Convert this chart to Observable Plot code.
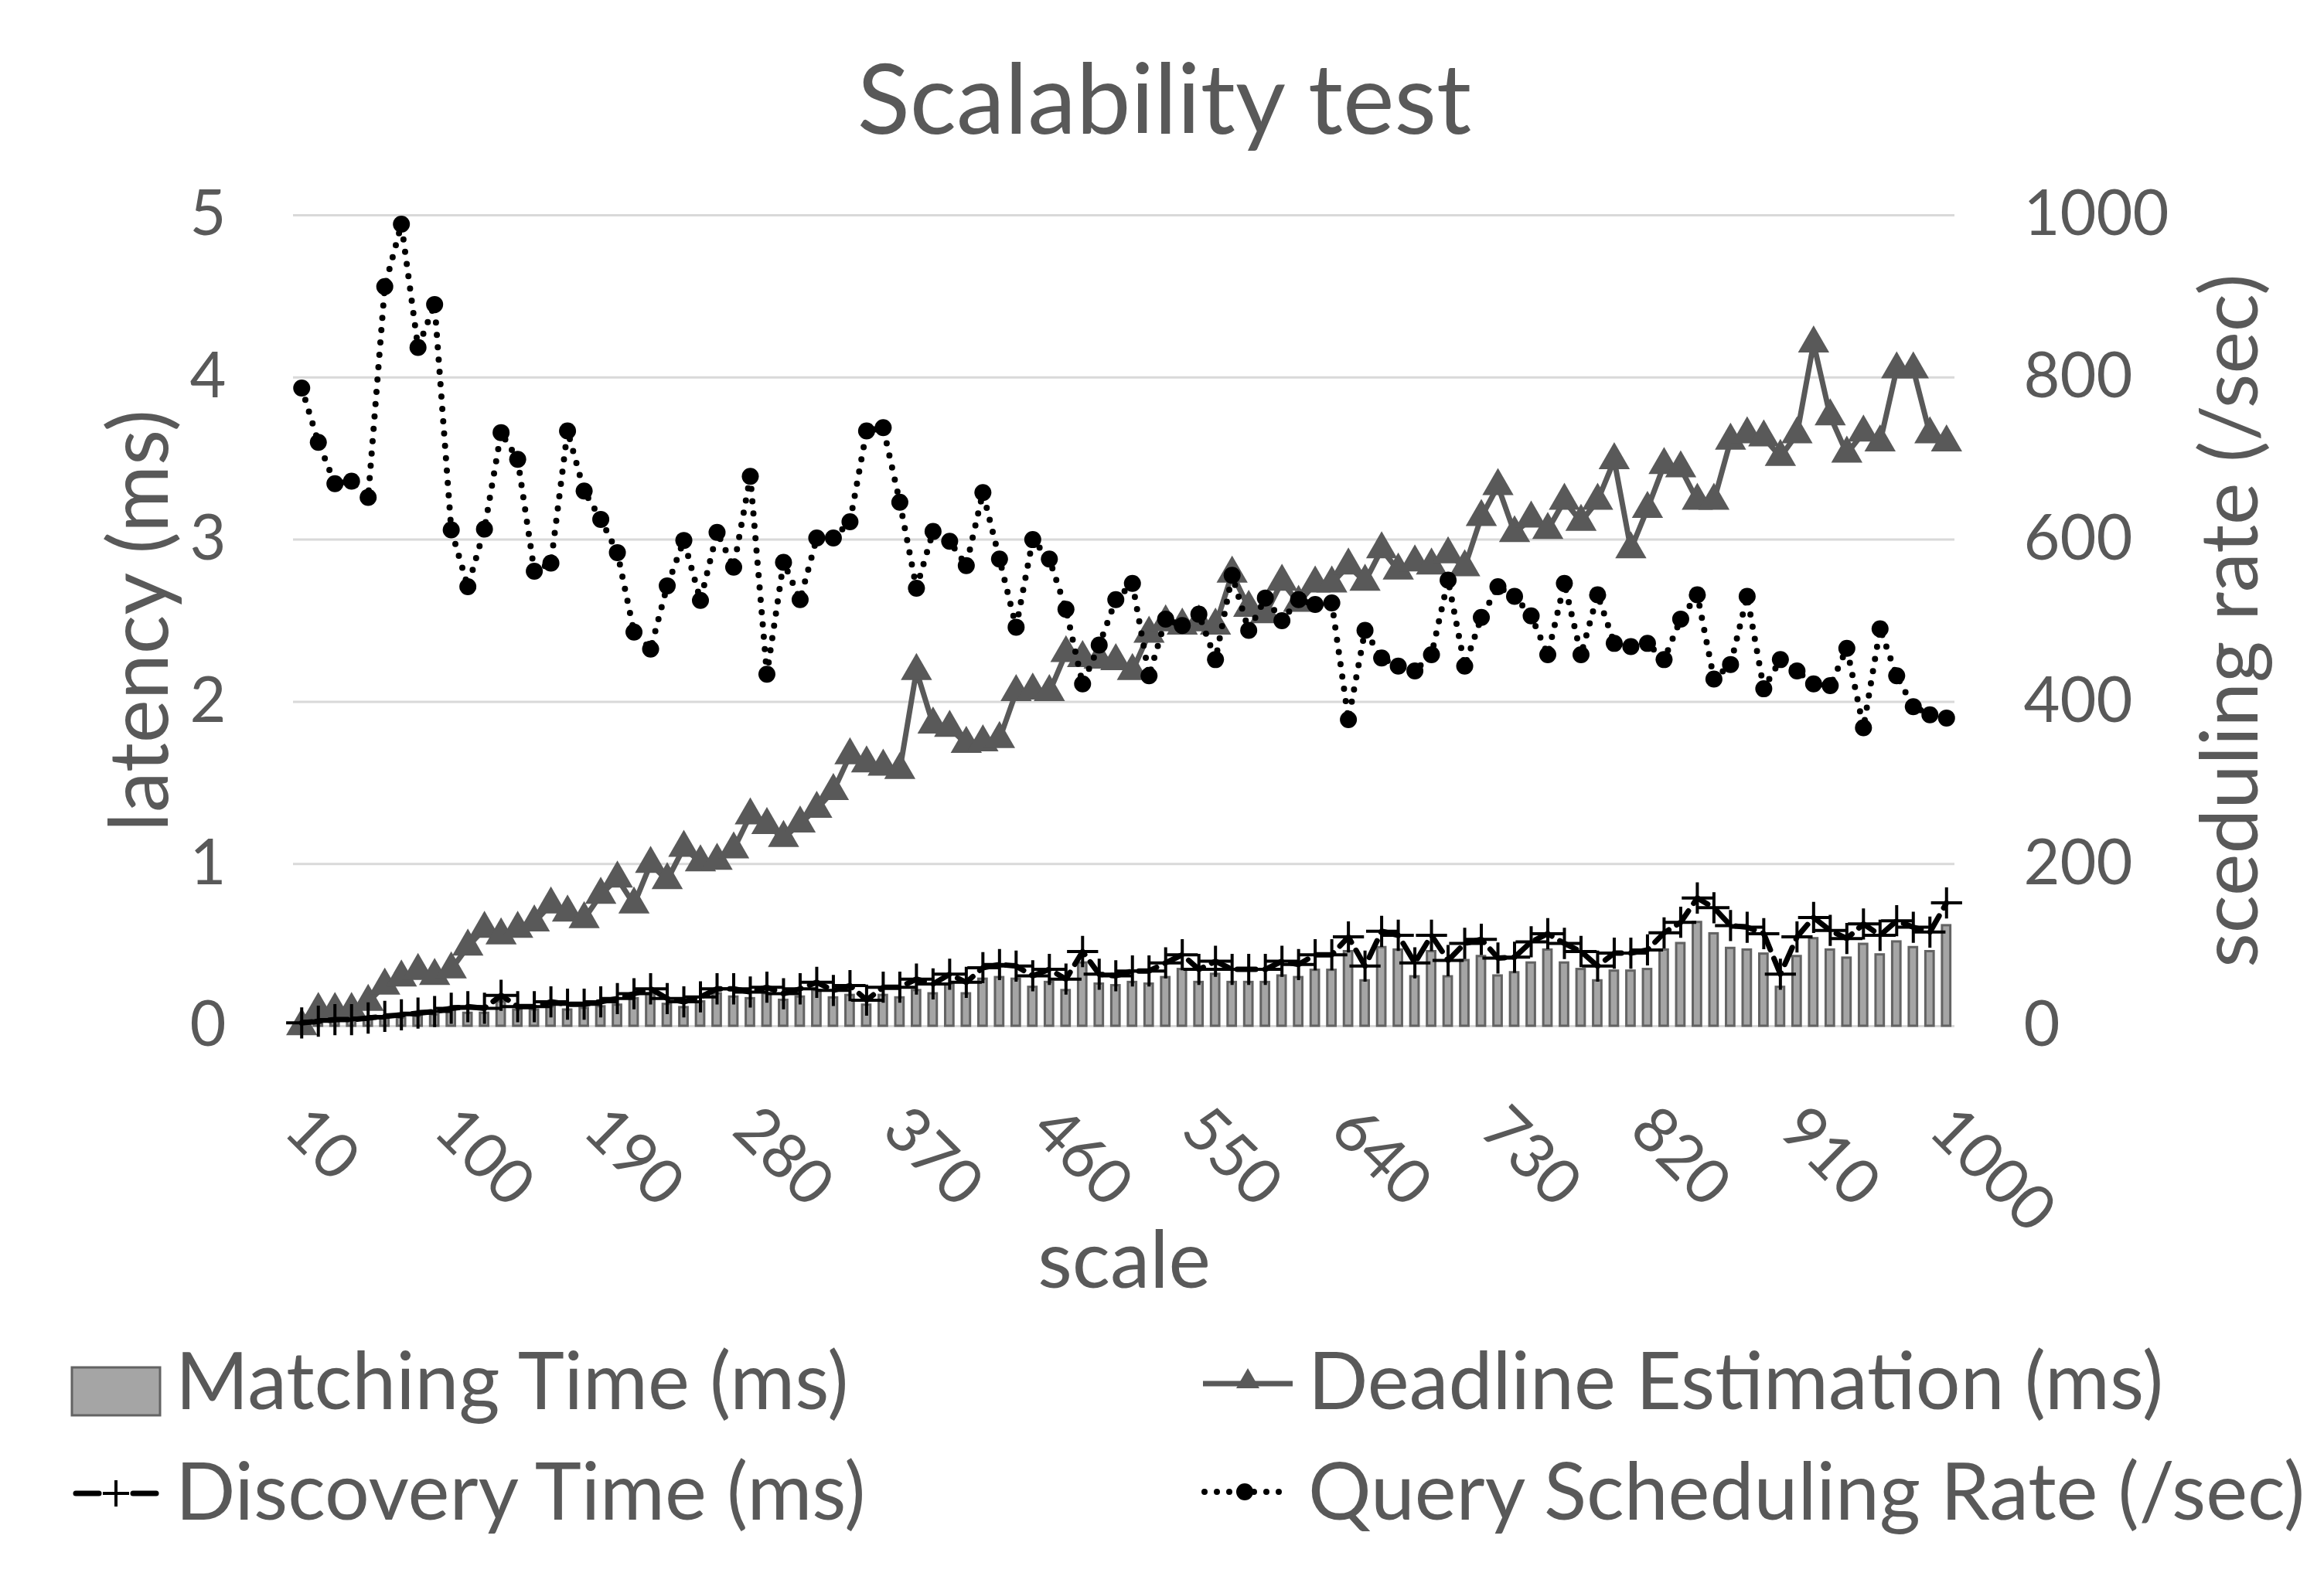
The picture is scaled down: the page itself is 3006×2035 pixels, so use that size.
<!DOCTYPE html>
<html>
<head>
<meta charset="utf-8">
<script src="https://cdn.jsdelivr.net/npm/d3@7"></script>
<script src="https://cdn.jsdelivr.net/npm/@observablehq/plot@0.6"></script>
<style>
  html, body { margin: 0; padding: 0; background: white; }
  #page { position: relative; width: 3006px; height: 2035px; background: white; font-family: Lato, sans-serif; color: #595959; overflow: hidden; }
  #title { position: absolute; left: 0; top: 0; width: 3006px; height: 250px; display: flex; align-items: center; justify-content: center; font-size: 126px; line-height: 1; padding-left: 6px; box-sizing: border-box; }
  #chart { position: absolute; left: 0; top: 230px; }
  .leg { position: absolute; font-size: 102px; line-height: 1; white-space: nowrap; }
  #swatches { position: absolute; left: 0; top: 0; }
</style>
</head>
<body>
<div id="page">
  <div id="title">Scalability test</div>
  <div id="chart"></div>
  <div class="leg" style="left:227px; top:1733px;">Matching Time (ms)</div>
  <div class="leg" style="left:1692px; top:1733px;">Deadline Estimation (ms)</div>
  <div class="leg" style="left:227px; top:1876px;">Discovery Time (ms)</div>
  <div class="leg" style="left:1692px; top:1876px;">Query Scheduling Rate (/sec)</div>
  <svg id="swatches" width="3006" height="2035"></svg>
</div>
<script>
const scales = [10,20,30,40,50,60,70,80,90,100,110,120,130,140,150,160,170,180,190,200,
  210,220,230,240,250,260,270,280,290,300,310,320,330,340,350,360,370,380,390,400,
  410,420,430,440,450,460,470,480,490,500,510,520,530,540,550,560,570,580,590,600,
  610,620,630,640,650,660,670,680,690,700,710,720,730,740,750,760,770,780,790,800,
  810,820,830,840,850,860,870,880,890,900,910,920,930,940,950,960,970,980,990,1000];

const matchingTime = [0.00,0.02,0.03,0.03,0.04,0.05,0.05,0.06,0.07,0.10,
  0.08,0.08,0.15,0.10,0.10,0.12,0.10,0.11,0.12,0.13,
  0.17,0.20,0.135,0.115,0.15,0.20,0.18,0.17,0.20,0.16,
  0.18,0.22,0.175,0.19,0.13,0.19,0.175,0.22,0.20,0.26,
  0.20,0.29,0.30,0.29,0.24,0.27,0.22,0.39,0.26,0.25,
  0.27,0.26,0.30,0.35,0.27,0.32,0.27,0.27,0.27,0.31,
  0.30,0.345,0.345,0.46,0.28,0.485,0.47,0.305,0.46,0.305,
  0.405,0.43,0.31,0.33,0.39,0.47,0.39,0.35,0.28,0.34,
  0.34,0.35,0.47,0.51,0.64,0.57,0.48,0.47,0.445,0.24,
  0.43,0.54,0.47,0.42,0.505,0.44,0.52,0.485,0.46,0.62];

const deadlineEstimation = [0.00,0.10,0.10,0.10,0.15,0.25,0.30,0.34,0.31,0.35,
  0.49,0.60,0.56,0.60,0.64,0.75,0.70,0.66,0.81,0.91,
  0.75,1.00,0.90,1.10,1.01,1.02,1.09,1.30,1.24,1.16,
  1.25,1.34,1.45,1.67,1.62,1.60,1.58,2.19,1.86,1.84,
  1.74,1.75,1.77,2.06,2.07,2.06,2.30,2.27,2.26,2.25,
  2.19,2.42,2.49,2.47,2.49,2.47,2.79,2.58,2.54,2.74,
  2.61,2.73,2.73,2.84,2.74,2.94,2.81,2.86,2.84,2.91,
  2.83,3.14,3.33,3.04,3.13,3.06,3.24,3.11,3.24,3.49,
  2.94,3.19,3.46,3.44,3.24,3.24,3.61,3.65,3.63,3.51,
  3.65,4.21,3.76,3.53,3.66,3.60,4.05,4.05,3.65,3.60];

const discoveryTime = [0.02,0.03,0.04,0.04,0.05,0.06,0.07,0.08,0.09,0.11,
  0.12,0.11,0.19,0.12,0.12,0.15,0.135,0.135,0.15,0.17,
  0.20,0.23,0.17,0.15,0.18,0.23,0.23,0.21,0.24,0.20,
  0.23,0.27,0.22,0.25,0.16,0.24,0.24,0.29,0.26,0.32,
  0.27,0.36,0.38,0.37,0.31,0.35,0.29,0.46,0.32,0.31,
  0.34,0.34,0.39,0.44,0.35,0.40,0.35,0.35,0.35,0.40,
  0.38,0.44,0.44,0.55,0.37,0.585,0.56,0.39,0.56,0.405,
  0.51,0.535,0.42,0.425,0.52,0.57,0.51,0.46,0.37,0.45,
  0.45,0.47,0.575,0.64,0.79,0.73,0.62,0.61,0.57,0.32,
  0.55,0.67,0.59,0.54,0.63,0.56,0.65,0.61,0.58,0.76];

const schedulingRate = [787,720,669,672,652,912,989,837,890,612,
  542,613,732,699,561,571,734,660,625,584,
  486,465,543,599,525,609,566,678,434,572,
  526,602,602,622,734,738,646,540,610,598,
  568,658,576,492,600,576,514,422,470,526,
  546,432,502,494,508,452,556,488,528,500,
  526,520,522,378,488,454,444,438,458,550,
  444,504,542,530,506,458,546,458,532,472,
  468,472,452,502,532,428,446,530,416,452,
  438,422,420,466,368,490,432,394,384,380];

const latencyTicks = [0, 1, 2, 3, 4, 5];
const rateTicks = [0, 200, 400, 600, 800, 1000];
const xTickLabels = [10, 100, 190, 280, 370, 460, 550, 640, 730, 820, 910, 1000];

const rateToLatency = 5 / 1000;

const data = scales.map((s, i) => ({
  scale: s,
  matching: matchingTime[i],
  deadline: deadlineEstimation[i],
  discovery: discoveryTime[i],
  rate: schedulingRate[i]
}));

const chart = Plot.plot({
  width: 3006,
  height: 1510,
  marginLeft: 379,
  marginRight: 478,
  marginTop: 48,
  marginBottom: 413,
  style: { fontFamily: "Lato", fontSize: "81px", color: "#595959", background: "white", overflow: "visible" },
  x: { type: "band", domain: scales, paddingInner: 0.5, paddingOuter: 0.25, axis: null },
  y: { domain: [0, 5], axis: null },
  marks: [
    Plot.ruleY(latencyTicks, { stroke: "#d9d9d9", strokeWidth: 3 }),
    Plot.barY(data, { x: "scale", y: "matching", fill: "#a5a5a5", stroke: "#636363", strokeWidth: 3 }),
    Plot.line(data, { x: "scale", y: "deadline", stroke: "#595959", strokeWidth: 7, strokeLinejoin: "round" }),
    Plot.dot(data, { x: "scale", y: "deadline", symbol: "triangle", r: 15, fill: "#595959", stroke: "none" }),
    Plot.line(data, { x: "scale", y: "discovery", stroke: "black", strokeWidth: 7, strokeDasharray: "24,12", strokeLinecap: "round" }),
    Plot.dot(data, { x: "scale", y: "discovery", symbol: "plus", r: 13, stroke: "black", strokeWidth: 4 }),
    Plot.line(data, { x: "scale", y: d => d.rate * rateToLatency, stroke: "black", strokeWidth: 8, strokeDasharray: "0,16", strokeLinecap: "round" }),
    Plot.dot(data, { x: "scale", y: d => d.rate * rateToLatency, r: 11, fill: "black", stroke: "none" }),
    Plot.text(latencyTicks, { y: d => d, text: d => String(d), frameAnchor: "left", dx: -87, textAnchor: "end", fill: "#595959", fontSize: 81 }),
    Plot.text(rateTicks, { y: d => d * rateToLatency, text: d => String(d), frameAnchor: "right", dx: 89, textAnchor: "start", fill: "#595959", fontSize: 81 }),
    Plot.text(xTickLabels, { x: d => d, text: d => String(d), frameAnchor: "bottom", dx: -26, dy: 138, rotate: 45, textAnchor: "start", fill: "#595959", fontSize: 81 }),
    Plot.text(["scale"], { text: d => d, frameAnchor: "bottom", dy: 338, textAnchor: "middle", fill: "#595959", fontSize: 103 }),
    Plot.text(["latency (ms)"], { text: d => d, frameAnchor: "left", dx: -196, rotate: -90, textAnchor: "middle", fill: "#595959", fontSize: 106 }),
    Plot.text(["sceduling rate (/sec)"], { text: d => d, frameAnchor: "right", dx: 359, rotate: -90, textAnchor: "middle", fill: "#595959", fontSize: 103 })
  ]
});
document.getElementById("chart").appendChild(chart);

// Legend swatches
const sw = d3.select("#swatches");
sw.append("rect").attr("x", 93).attr("y", 1769).attr("width", 114).attr("height", 62)
  .attr("fill", "#a5a5a5").attr("stroke", "#636363").attr("stroke-width", 3);
sw.append("line").attr("x1", 1556).attr("x2", 1672).attr("y1", 1790).attr("y2", 1790)
  .attr("stroke", "#595959").attr("stroke-width", 7);
sw.append("path").attr("transform", "translate(1614,1787)")
  .attr("d", "M0,-17L15,9L-15,9Z").attr("fill", "#595959");
sw.append("line").attr("x1", 98).attr("x2", 128).attr("y1", 1932).attr("y2", 1932)
  .attr("stroke", "black").attr("stroke-width", 7).attr("stroke-linecap", "round");
sw.append("line").attr("x1", 172).attr("x2", 202).attr("y1", 1932).attr("y2", 1932)
  .attr("stroke", "black").attr("stroke-width", 7).attr("stroke-linecap", "round");
sw.append("path").attr("d", "M133,1932H167M150,1915V1949").attr("stroke", "black").attr("stroke-width", 4).attr("fill", "none");
sw.append("line").attr("x1", 1558).attr("x2", 1666).attr("y1", 1930).attr("y2", 1930)
  .attr("stroke", "black").attr("stroke-width", 8).attr("stroke-dasharray", "0,16").attr("stroke-linecap", "round");
sw.append("circle").attr("cx", 1610).attr("cy", 1930).attr("r", 11).attr("fill", "black");
</script>
</body>
</html>
